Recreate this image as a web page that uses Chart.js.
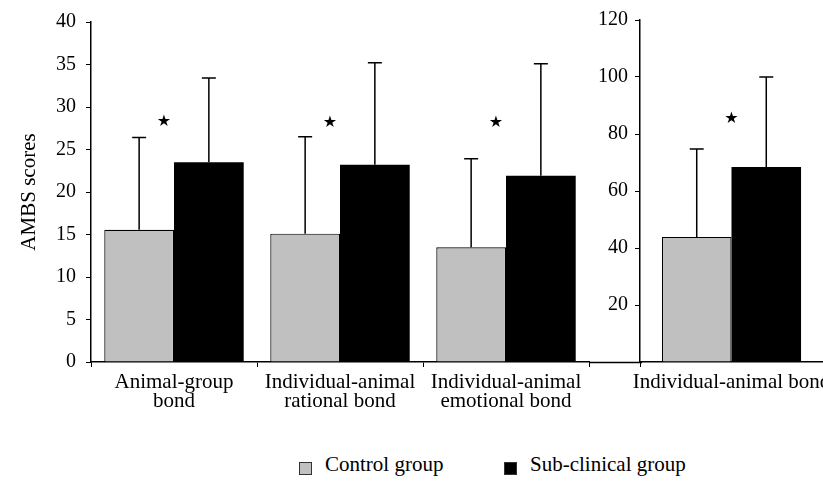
<!DOCTYPE html>
<html>
<head>
<meta charset="utf-8">
<script src="https://cdn.jsdelivr.net/npm/chart.js@4/dist/chart.umd.min.js"></script>
<style>
  html, body { margin: 0; padding: 0; background: #fff; }
  #wrap { position: relative; width: 823px; height: 486px; overflow: hidden; font-family: 'Liberation Serif', 'Times New Roman', serif; }
  #cLeftBox { position: absolute; left: 0; top: 0; width: 645px; height: 440px; }
  #cRightBox { position: absolute; left: 560px; top: 0; width: 263px; height: 440px; }
  .lg { position: absolute; top: 451px; font-size: 21px; color: #000; line-height: 26px; white-space: nowrap; }
  .sw { position: absolute; width: 11px; height: 11px; border: 1px solid #333; top: 462px; }
</style>
</head>
<body>
<div id="wrap">
  <div id="cLeftBox"><canvas id="cLeft"></canvas></div>
  <div id="cRightBox"><canvas id="cRight"></canvas></div>
  <div class="sw" style="left:299px;background:#c0c0c0;"></div>
  <div class="lg" style="left:325px;" id="lg1"></div>
  <div class="sw" style="left:504px;background:#000;"></div>
  <div class="lg" style="left:530px;" id="lg2"></div>
</div>
<script>
// ---- data ----
const seriesNames = ["Control group", "Sub-clinical group"];
const yTitle = "AMBS scores";

const leftCategories = [["Animal-group", "bond"], ["Individual-animal", "rational bond"], ["Individual-animal", "emotional bond"]];
const leftControl = [15.55, 15.1, 13.5];
const leftControlSD = [10.85, 11.4, 10.4];
const leftSub = [23.5, 23.2, 21.9];
const leftSubSD = [9.9, 12.0, 13.2];
const leftStarLevel = [28.2, 28.1, 28.1];
const leftTicks = [0, 5, 10, 15, 20, 25, 30, 35, 40];

const rightCategories = ["Individual-animal bond"];
const rightControl = [43.9];
const rightControlSD = [30.8];
const rightSub = [68.4];
const rightSubSD = [31.6];
const rightStarLevel = [85.3];
const rightTicks = [0, 20, 40, 60, 80, 100, 120];

document.getElementById('lg1').textContent = seriesNames[0];
document.getElementById('lg2').textContent = seriesNames[1];

const FONT = "'Liberation Serif', 'Times New Roman', serif";

const errorBars = {
  id: 'errorBars',
  afterDatasetsDraw(chart) {
    const ctx = chart.ctx;
    const ys = chart.scales.y;
    ctx.save();
    ctx.strokeStyle = '#000';
    ctx.lineWidth = 1.5;
    chart.data.datasets.forEach((ds, di) => {
      const meta = chart.getDatasetMeta(di);
      meta.data.forEach((bar, i) => {
        const v = ds.data[i], sd = ds.sd[i];
        const yTop = ys.getPixelForValue(v + sd);
        ctx.beginPath();
        ctx.moveTo(bar.x, bar.y);
        ctx.lineTo(bar.x, yTop);
        ctx.moveTo(bar.x - 7, yTop);
        ctx.lineTo(bar.x + 7, yTop);
        ctx.stroke();
      });
    });
    // significance stars
    const cfg = chart.options.plugins.errorBars;
    const m0 = chart.getDatasetMeta(0), m1 = chart.getDatasetMeta(1);
    ctx.fillStyle = '#000';
    ctx.font = "bold 16px 'DejaVu Sans'";
    ctx.textAlign = 'center';
    ctx.textBaseline = 'middle';
    cfg.stars.forEach((lvl, i) => {
      const b0 = m0.data[i], b1 = m1.data[i];
      const x = (b0.x + b0.width / 2 + b1.x - b1.width / 2) / 2 + cfg.starShift;
      ctx.fillText('\u2605', x, ys.getPixelForValue(lvl));
    });
    // axis line extension
    if (cfg.extendTo) {
      ctx.beginPath();
      ctx.lineWidth = 1.5;
      ctx.moveTo(chart.chartArea.right, chart.chartArea.bottom + 0.5);
      ctx.lineTo(cfg.extendTo, chart.chartArea.bottom + 0.5);
      ctx.stroke();
    }
    ctx.restore();
  }
};

function makeChart(id, cats, ctrl, ctrlSD, sub, subSD, stars, ticks, opts) {
  return new Chart(document.getElementById(id), {
    type: 'bar',
    data: {
      labels: cats,
      datasets: [
        { label: seriesNames[0], data: ctrl, sd: ctrlSD, backgroundColor: '#c0c0c0', borderColor: '#000', borderWidth: 1.2, borderSkipped: 'bottom' },
        { label: seriesNames[1], data: sub, sd: subSD, backgroundColor: '#000', borderColor: '#000', borderWidth: 0 }
      ]
    },
    options: {
      responsive: true,
      maintainAspectRatio: false,
      animation: false,
      categoryPercentage: opts.catPct,
      barPercentage: 1.0,
      layout: { padding: { top: 20, right: opts.padRight, left: 0, bottom: 0 } },
      plugins: {
        legend: { display: false },
        tooltip: { enabled: false },
        errorBars: { stars: stars, starShift: opts.starShift, extendTo: opts.extendTo }
      },
      scales: {
        x: {
          offset: true,
          grid: { display: true, drawOnChartArea: false, drawTicks: true, tickLength: 5, color: '#000', lineWidth: 1 },
          border: { display: true, color: '#000', width: 1.5 },
          ticks: { color: '#000', font: { family: FONT, size: 21, lineHeight: 0.9 }, padding: 6, maxRotation: 0, minRotation: 0, autoSkip: false },
          afterFit(scale) { scale.height = 440 - 362; scale.paddingLeft = 0; scale.paddingRight = 0; }
        },
        y: {
          min: ticks[0], max: ticks[ticks.length - 1],
          afterBuildTicks(scale) { scale.ticks = ticks.map(v => ({ value: v })); },
          grid: { display: true, drawOnChartArea: false, drawTicks: true, tickLength: 5, color: '#000', lineWidth: 1 },
          border: { display: true, color: '#000', width: 1.5 },
          ticks: {
            color: '#000', font: { family: FONT, size: 20 }, padding: opts.tickPad,
            callback: (v) => (opts.hideZero && v === 0) ? '' : String(v)
          },
          title: opts.title ? { display: true, text: yTitle, color: '#000', font: { family: FONT, size: 21 }, padding: { top: 17, bottom: 0 } } : { display: false },
          afterFit(scale) { scale.width = opts.yWidth; }
        }
      }
    },
    plugins: [errorBars]
  });
}

makeChart('cLeft', leftCategories, leftControl, leftControlSD, leftSub, leftSubSD, leftStarLevel, leftTicks,
  { catPct: 0.84, padRight: 56, title: true, yWidth: 91, starShift: -10, extendTo: 642, hideZero: false, tickPad: 10 });
makeChart('cRight', rightCategories, rightControl, rightControlSD, rightSub, rightSubSD, rightStarLevel, rightTicks,
  { catPct: 0.76, padRight: 0, title: false, yWidth: 80, starShift: 0, extendTo: 0, hideZero: true, tickPad: 7 });
</script>
</body>
</html>
